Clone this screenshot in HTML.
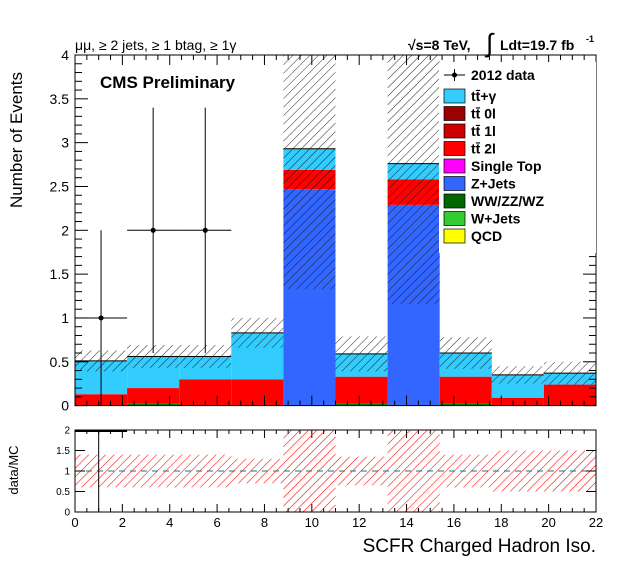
<!DOCTYPE html>
<html><head><meta charset="utf-8"><style>
body{margin:0;background:#fff}
svg{display:block;font-family:"Liberation Sans",Arial,sans-serif}
</style></head><body>
<svg id="c" width="631" height="572">
<defs>
<pattern id="hk" width="6" height="6" patternUnits="userSpaceOnUse" patternTransform="rotate(45)"><line x1="0" y1="0" x2="0" y2="6" stroke="#111" stroke-width="0.9"/></pattern>
<pattern id="hr" width="6" height="6" patternUnits="userSpaceOnUse" patternTransform="rotate(45)"><line x1="0" y1="0" x2="0" y2="6" stroke="#f00" stroke-width="1.1"/></pattern>
</defs>
<g id="main"></g>
</svg>
<script>
const categories=[0,2.2,4.4,6.6,8.8,11,13.2,15.4,17.6,19.8];
const wjets=[0,0.02,0,0,0,0.02,0,0.02,0,0];
const zjets=[0,0,0,0,2.47,0,2.29,0,0,0];
const tt2l=[0.13,0.18,0.3,0.3,0.22,0.31,0.29,0.31,0.09,0.24];
const ttgam=[0.38,0.36,0.26,0.53,0.24,0.26,0.18,0.27,0.26,0.13];
const uncert=[0.12,0.13,0.13,0.17,1.6,0.2,1.6,0.18,0.1,0.13];
const dataX=[1.1,3.3,5.5];
const dataY=[1,2,2];
const dataLo=[1,1.4,1.4];
const dataHi=[1,1.4,1.4];
const ratioLo=[0.6,0.6,0.6,0.7,0,0.65,0,0.6,0.5,0.5];
const ratioHi=[1.4,1.4,1.4,1.3,2,1.35,2,1.4,1.5,1.5];
const yTicks=[0,0.5,1,1.5,2,2.5,3,3.5,4];
const xTicks=[0,2,4,6,8,10,12,14,16,18,20,22];
const rTicks=[0,0.5,1,1.5,2];
const BW=2.2;

const NS="http://www.w3.org/2000/svg";
const g=document.getElementById('main');
const L=75,R=596,T=55,B=405.6,RT=430,RB=512;
const X=v=>L+(R-L)*v/22;
const Y=v=>B-(B-T)*v/4;
const RY=v=>RB-(RB-RT)*v/2;
function el(tag,a,txt){const e=document.createElementNS(NS,tag);for(const k in a)e.setAttribute(k,a[k]);if(txt!==undefined)e.textContent=txt;g.appendChild(e);return e;}
function rect(x0,x1,y0,y1,fill,name){
  const e=el('rect',{x:x0,y:Math.min(y0,y1),width:x1-x0,height:Math.abs(y1-y0),fill:fill});
  
  
  return e;
}
categories.forEach((c,i)=>{
  const x0=X(c),x1=X(c+BW);
  let base=0;
  const layers=[[wjets[i],'#008000','wjets'],[zjets[i],'#3366ff','zjets'],[tt2l[i],'#ff0000','tt2l'],[ttgam[i],'#33ccff','ttgamma']];
  layers.forEach(([v,col,n])=>{if(v>0){rect(x0,x1,Y(base+v),Y(base),col,'bar-'+n+'-'+i);}base+=v;});
  const top=Y(base);
  const ln=el('line',{x1:x0,x2:x1,y1:top,y2:top,stroke:'#000','stroke-width':1});
  
  
  const u0=Math.min(4,base+uncert[i]),u1=Math.max(0,base-uncert[i]);
  rect(x0,x1,Y(u0),Y(u1),'url(#hk)','uncertainty-band-'+i);
});
dataX.forEach((x,i)=>{
  const a={stroke:'#000','stroke-width':1};
  let e=el('line',Object.assign({x1:X(x),x2:X(x),y1:Y(dataY[i]+dataHi[i]),y2:Y(dataY[i]-dataLo[i])},a));
  
  
  e=el('line',Object.assign({x1:X(x-BW/2),x2:X(x+BW/2),y1:Y(dataY[i]),y2:Y(dataY[i])},a));
  
  
  e=el('circle',{cx:X(x),cy:Y(dataY[i]),r:2.5,fill:'#000'});
  
  
});
let f=el('rect',{x:L,y:T,width:R-L,height:B-T,fill:'none',stroke:'#000','stroke-width':1});


for(let v=0;v<=4.001;v+=0.1){const big=Math.abs(v*2-Math.round(v*2))<1e-6;const len=big?13:7;
  el('line',{x1:L,x2:L+len,y1:Y(v),y2:Y(v),stroke:'#000'});el('line',{x1:R,x2:R-len,y1:Y(v),y2:Y(v),stroke:'#000'});}
yTicks.forEach(v=>{const t=el('text',{x:L-6,y:Y(v)+5,'text-anchor':'end','font-size':14},String(v));
  
  });
for(let v=0;v<=22.001;v+=0.5){const big=Math.abs(v/2-Math.round(v/2))<1e-6;const len=big?10:5;
  el('line',{x1:X(v),x2:X(v),y1:B,y2:B-len,stroke:'#000'});el('line',{x1:X(v),x2:X(v),y1:T,y2:T+len,stroke:'#000'});
  el('line',{x1:X(v),x2:X(v),y1:RB,y2:RB-(big?8:4),stroke:'#000'});el('line',{x1:X(v),x2:X(v),y1:RT,y2:RT+(big?8:4),stroke:'#000'});}
categories.forEach((c,i)=>{rect(X(c),X(c+BW),RY(ratioHi[i]),RY(ratioLo[i]),'url(#hr)','ratio-band-'+i);});
let d=el('line',{x1:L,x2:R,y1:RY(1),y2:RY(1),stroke:'#008080','stroke-width':1,'stroke-dasharray':'6,5'});


d=el('line',{x1:X(1),x2:X(1),y1:RY(0),y2:RY(2),stroke:'#000'});


el('line',{x1:L,x2:X(2.2),y1:RY(2)+1,y2:RY(2)+1,stroke:'#000','stroke-width':2});
f=el('rect',{x:L,y:RT,width:R-L,height:RB-RT,fill:'none',stroke:'#000'});


rTicks.forEach(v=>{el('line',{x1:L,x2:L+10,y1:RY(v),y2:RY(v),stroke:'#000'});el('line',{x1:R,x2:R-10,y1:RY(v),y2:RY(v),stroke:'#000'});
  const t=el('text',{x:L-5,y:RY(v)+3.5,'text-anchor':'end','font-size':10},String(v));
  
  });
xTicks.forEach(v=>{const t=el('text',{x:X(v),y:527,'text-anchor':'middle','font-size':13},String(v));
  
  });
const leg=[['#33ccff','tt\u0304+\u03b3'],['#990000','tt\u0304 0l'],['#cc0000','tt\u0304 1l'],['#ff0000','tt\u0304 2l'],['#ff00ff','Single Top'],['#3366ff','Z+Jets'],['#006600','WW/ZZ/WZ'],['#33cc33','W+Jets'],['#ffff00','QCD']];
rect(439,596,62,253,'#fff','legend-box');
el('line',{x1:444,x2:465,y1:75,y2:75,stroke:'#000'});el('line',{x1:454.5,x2:454.5,y1:69,y2:81,stroke:'#000'});el('circle',{cx:454.5,cy:75,r:2.5,fill:'#000'});
let t=el('text',{x:471,y:80,'font-size':14,'font-weight':'bold'},'2012 data');

leg.forEach(([c,n],i)=>{const y=96+i*17.5;const r=el('rect',{x:444,y:y-7,width:21,height:14,fill:c,stroke:'#000','stroke-width':0.7});
  
  const tx=el('text',{x:471,y:y+5,'font-size':14,'font-weight':'bold'},n);
  });
t=el('text',{x:100,y:88,'font-size':17,'font-weight':'bold'},'CMS Preliminary');
t=el('text',{x:75,y:50,'font-size':14},'\u03bc\u03bc, \u2265 2 jets, \u2265 1 btag, \u2265 1\u03b3');
t=el('text',{x:408,y:50,'font-size':14,'font-weight':'bold'},'\u221as=8 TeV,');
t=el('text',{x:486,y:52,'font-size':26},'\u222b');
t=el('text',{x:500,y:50,'font-size':14,'font-weight':'bold'},'Ldt=19.7 fb');
el('text',{x:586,y:42,'font-size':9,'font-weight':'bold'},'-1');
t=el('text',{x:22,y:140,'font-size':17,'text-anchor':'middle',transform:'rotate(-90 22 140)'},'Number of Events');
t=el('text',{x:18,y:470,'font-size':13,'text-anchor':'middle',transform:'rotate(-90 18 470)'},'data/MC');
t=el('text',{x:596,y:552,'font-size':19,'text-anchor':'end'},'SCFR Charged Hadron Iso.');
</script>
</body></html>
